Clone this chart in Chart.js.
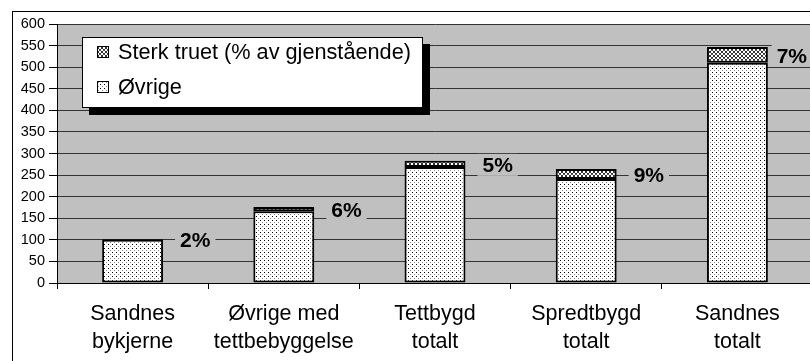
<!DOCTYPE html>
<html>
<head>
<meta charset="utf-8">
<script src="https://cdn.jsdelivr.net/npm/chart.js@4/dist/chart.umd.min.js"></script>
<style>
  html, body { margin: 0; padding: 0; background: #fff; overflow: hidden; }
  #wrap { width: 830px; height: 361px; }
</style>
</head>
<body>
<div id="wrap"><canvas id="c" width="830" height="361"></canvas></div>
<script>
// Categories (two-line axis labels)
const categories = [
  ['Sandnes', 'bykjerne'],
  ['Øvrige med', 'tettbebyggelse'],
  ['Tettbygd', 'totalt'],
  ['Spredtbygd', 'totalt'],
  ['Sandnes', 'totalt']
];
// Series values
const ovrige     = [100, 166, 269, 241, 510];
const sterkTruet = [2, 10, 14, 23, 37];
// Y axis ticks
const yTicks = [0, 50, 100, 150, 200, 250, 300, 350, 400, 450, 500, 550, 600];
const seriesNames = ['Øvrige', 'Sterk truet (% av gjenstående)'];

const FONT = '"Liberation Sans", Arial, sans-serif';

// Fill patterns for the two series
function makePattern(w, h, pixels) {
  const t = document.createElement('canvas');
  t.width = w; t.height = h;
  const g = t.getContext('2d');
  g.fillStyle = '#ffffff';
  g.fillRect(0, 0, w, h);
  pixels.forEach(([x, y, c]) => { g.fillStyle = c; g.fillRect(x, y, 1, 1); });
  return document.getElementById('c').getContext('2d').createPattern(t, 'repeat');
}
const dotPattern = makePattern(4, 4, [[0, 0, '#000'], [2, 2, '#8a8a8a']]);
const wavePattern = makePattern(4, 4, [
  [1, 0, '#333'], [2, 0, '#333'],
  [0, 1, '#333'], [3, 1, '#333'],
  [0, 2, '#555'], [3, 2, '#555'],
  [1, 3, '#333'], [2, 3, '#333']
]);

// Page background, outer frame and grey plot area
const backdrop = {
  id: 'backdrop',
  beforeDraw(chart) {
    const { ctx, chartArea: a } = chart;
    ctx.save();
    ctx.fillStyle = '#fff';
    ctx.fillRect(0, 0, chart.width, chart.height);
    ctx.strokeStyle = '#000';
    ctx.lineWidth = 1;
    ctx.strokeRect(12.5, 11.5, chart.width + 20, chart.height + 20);
    ctx.fillStyle = '#c0c0c0';
    ctx.fillRect(a.left, a.top, a.right - a.left, a.bottom - a.top);
    ctx.restore();
  }
};

// Share of "Sterk truet" in each column, written beside the column top
const shareLabels = {
  id: 'shareLabels',
  afterDatasetsDraw(chart) {
    const { ctx } = chart;
    const topMeta = chart.getDatasetMeta(1);
    ctx.save();
    ctx.font = 'bold 21px ' + FONT;
    ctx.textBaseline = 'middle';
    ctx.textAlign = 'left';
    topMeta.data.forEach((el, i) => {
      const total = ovrige[i] + sterkTruet[i];
      const txt = Math.round(100 * sterkTruet[i] / total) + '%';
      const w = ctx.measureText(txt).width;
      let x = el.x + el.width / 2 + 17;
      if (x + w > 807) x = 807 - w;
      const y = (el.y + el.base) / 2 + 1;
      ctx.fillStyle = '#c0c0c0';
      ctx.fillRect(x - 5, y - 11, w + 10, 22);
      ctx.fillStyle = '#000';
      ctx.fillText(txt, x, y + 1);
    });
    ctx.restore();
  }
};

// Boxed legend with drop shadow
const boxLegend = {
  id: 'boxLegend',
  afterDraw(chart) {
    const { ctx } = chart;
    const x = 82, y = 37, w = 341, h = 71;
    ctx.save();
    ctx.fillStyle = '#000';
    ctx.fillRect(x + 7, y + 7, w, h);
    ctx.fillStyle = '#fff';
    ctx.fillRect(x, y, w, h);
    ctx.strokeStyle = '#000';
    ctx.lineWidth = 1;
    ctx.strokeRect(x + 0.5, y + 0.5, w - 1, h - 1);
    const entries = [
      { label: chart.data.datasets[1].label, fill: wavePattern, cy: 52 },
      { label: chart.data.datasets[0].label, fill: dotPattern, cy: 87 }
    ];
    ctx.font = '21.7px ' + FONT;
    ctx.textBaseline = 'middle';
    entries.forEach(e => {
      ctx.fillStyle = e.fill;
      ctx.fillRect(97, e.cy - 6, 12, 12);
      ctx.strokeStyle = '#000';
      ctx.strokeRect(97.5, e.cy - 5.5, 11, 11);
      ctx.fillStyle = '#000';
      ctx.fillText(e.label, 118, e.cy + 1);
    });
    ctx.restore();
  }
};

new Chart(document.getElementById('c'), {
  type: 'bar',
  data: {
    labels: categories,
    datasets: [
      {
        label: seriesNames[0],
        data: ovrige,
        backgroundColor: dotPattern,
        borderColor: '#000',
        borderWidth: 2,
        borderSkipped: false
      },
      {
        label: seriesNames[1],
        data: sterkTruet,
        backgroundColor: wavePattern,
        borderColor: '#000',
        borderWidth: 2,
        borderSkipped: false
      }
    ]
  },
  options: {
    responsive: false,
    animation: false,
    layout: { padding: { top: 24, right: 17, bottom: 0, left: 0 } },
    datasets: { bar: { categoryPercentage: 1, barPercentage: 0.403 } },
    plugins: { legend: { display: false }, tooltip: { enabled: false } },
    scales: {
      x: {
        stacked: true,
        afterFit(s) { s.height = 78; },
        border: { display: true, color: '#000', width: 1 },
        grid: { drawOnChartArea: false, drawTicks: true, tickLength: 6, tickColor: '#000', offset: true },
        ticks: {
          color: '#000',
          padding: 11,
          maxRotation: 0,
          autoSkip: false,
          font: { family: FONT, size: 21.5, lineHeight: 1.3 }
        }
      },
      y: {
        stacked: true,
        min: 0,
        max: 600,
        afterFit(s) { s.width = 57; },
        afterBuildTicks(s) { s.ticks = yTicks.map(v => ({ value: v })); },
        border: { display: true, color: '#000', width: 1 },
        grid: { color: '#333', lineWidth: 1, tickLength: 8, tickColor: '#000' },
        ticks: {
          color: '#000',
          padding: 4,
          font: { family: FONT, size: 14.5 }
        }
      }
    }
  },
  plugins: [backdrop, shareLabels, boxLegend]
});
</script>
</body>
</html>
